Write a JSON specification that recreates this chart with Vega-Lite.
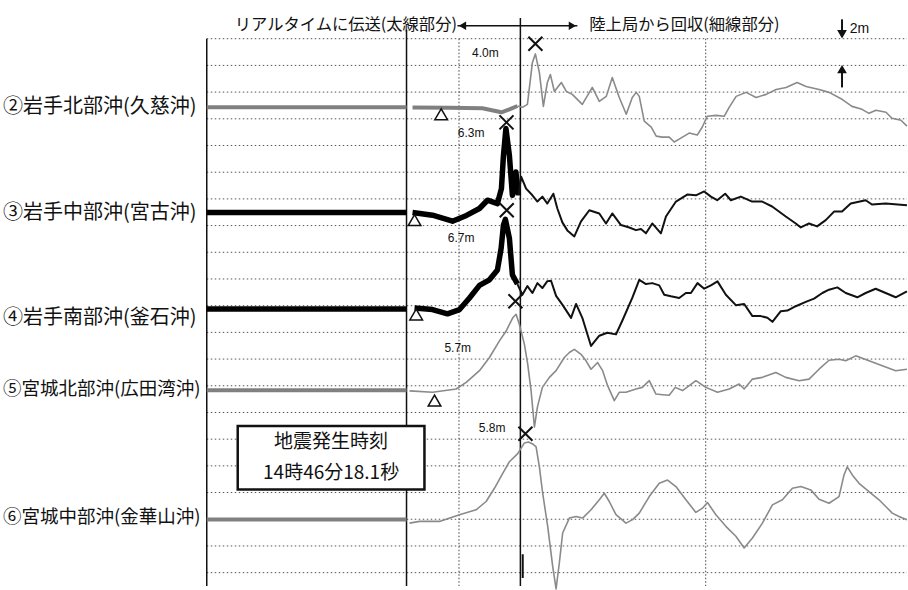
{
  "$schema": "https://vega.github.io/schema/vega-lite/v6.json",
  "width": 908,
  "height": 590,
  "autosize": {"type": "fit", "contains": "padding"},
  "padding": 0,
  "background": "white",
  "config": {"view": {"stroke": null}, "text": {"font": "Noto Sans CJK JP", "color": "#111"}},
  "datasets": {
    "hgrid": [
      {"h":0,"t0":-1.34,"t1":168.95},{"h":2,"t0":-1.34,"t1":168.95},{"h":4,"t0":-1.34,"t1":168.95},{"h":6,"t0":-1.34,"t1":168.95},{"h":8,"t0":-1.34,"t1":168.95},{"h":10,"t0":-1.34,"t1":168.95},{"h":12,"t0":-1.34,"t1":168.95},{"h":14,"t0":-1.34,"t1":168.95},{"h":16,"t0":-1.34,"t1":168.95},{"h":18,"t0":-1.34,"t1":168.95},{"h":20,"t0":-1.34,"t1":168.95},{"h":22,"t0":-1.34,"t1":168.95},{"h":24,"t0":-1.34,"t1":168.95},{"h":26,"t0":-1.34,"t1":168.95},{"h":28,"t0":-1.34,"t1":168.95},{"h":30,"t0":-1.34,"t1":168.95},{"h":32,"t0":-1.34,"t1":168.95},{"h":34,"t0":-1.34,"t1":168.95},{"h":36,"t0":-1.34,"t1":168.95},{"h":38,"t0":-1.34,"t1":168.95},{"h":40,"t0":-1.34,"t1":168.95}
    ],
    "vlines": [
      {"t": -1.34, "h": 40.0, "k": "solid"},
      {"t": 47.24, "h": 40.67, "k": "solid"},
      {"t": 74.93, "h": 41.56, "k": "solid"},
      {"t": 60, "h": 40.0, "k": "dot"},
      {"t": 120, "h": 40.0, "k": "dot"}
    ],
    "header": [
      {"t": 5.47, "h": 41.04, "text": "リアルタイムに伝送(太線部分)"},
      {"t": 91.7, "h": 41.04, "text": "陸上局から回収(細線部分)"}
    ],
    "arrowShaft": [{"t0": 59.63, "t1": 88.78, "h": 40.97}],
    "arrowHeads": [
      {"t": 60.85, "h": 40.97, "dir": "triangle-left"},
      {"t": 87.57, "h": 40.97, "dir": "triangle-right"}
    ],
    "scaleBar": [
      {"t": 153.15, "h0": 41.45, "h1": 40.6},
      {"t": 153.15, "h0": 36.35, "h1": 37.5}
    ],
    "scaleHeads": [
      {"t": 153.15, "h": 40.33, "dir": "triangle-down"},
      {"t": 153.15, "h": 37.72, "dir": "triangle-up"}
    ],
    "scaleText": [{"t": 155.0, "h": 40.74, "text": "2m"}],
    "tick": [{"t": 75.5, "h0": 1.38, "h1": -0.4}],
    "box": [{"t0": 6.19, "t1": 51.6, "h0": 10.98, "h1": 6.22}],
    "boxText": [
      {"t": 28.9, "h": 9.79, "text": "地震発生時刻"},
      {"t": 28.9, "h": 7.48, "text": "14時46分18.1秒"}
    ],
    "marks": [
      {"st": 2, "m": "arr", "t": 55.67, "w": -0.52},
      {"st": 2, "m": "peak", "t": 78.58, "w": 4.76},
      {"st": 2, "m": "lab", "t": 66.43, "w": 4.07, "text": "4.0m"},
      {"st": 2, "m": "name", "t": -50.89, "w": 0, "text": "②岩手北部沖(久慈沖)"},
      {"st": 3, "m": "arr", "t": 49.19, "w": -0.57},
      {"st": 3, "m": "peak", "t": 71.55, "w": 6.75},
      {"st": 3, "m": "lab", "t": 62.96, "w": 5.95, "text": "6.3m"},
      {"st": 3, "m": "name", "t": -50.89, "w": -0.07, "text": "③岩手中部沖(宮古沖)"},
      {"st": 4, "m": "arr", "t": 49.59, "w": -0.42},
      {"st": 4, "m": "peak", "t": 71.61, "w": 7.39},
      {"st": 4, "m": "lab", "t": 60.53, "w": 5.28, "text": "6.7m"},
      {"st": 4, "m": "name", "t": -50.89, "w": -0.67, "text": "④岩手南部沖(釜石沖)"},
      {"st": 5, "m": "arr", "t": 54.05, "w": -0.77},
      {"st": 5, "m": "peak", "t": 73.72, "w": 6.67},
      {"st": 5, "m": "lab", "t": 59.7, "w": 3.2, "text": "5.7m"},
      {"st": 5, "m": "name", "t": -50.89, "w": 0.07, "text": "⑤宮城北部沖(広田湾沖)"},
      {"st": 6, "m": "peak", "t": 76.15, "w": 6.42},
      {"st": 6, "m": "lab", "t": 68.06, "w": 6.87, "text": "5.8m"},
      {"st": 6, "m": "name", "t": -50.89, "w": 0.15, "text": "⑥宮城中部沖(金華山沖)"}
    ],
    "wave": [
      {"st":2,"seg":"2a","k":"thick","t":-1.34,"w":0},{"st":2,"seg":"2a","k":"thick","t":47.25,"w":0},
      {"st":2,"seg":"2b","k":"thick","t":48.7,"w":-0.02},{"st":2,"seg":"2b","k":"thick","t":57.69,"w":-0.04},{"st":2,"seg":"2b","k":"thick","t":65.7,"w":-0.07},{"st":2,"seg":"2b","k":"thick","t":70.32,"w":-0.37},{"st":2,"seg":"2b","k":"thick","t":72.26,"w":-0.15},{"st":2,"seg":"2b","k":"thick","t":74.21,"w":0.1},
      {"st":2,"seg":"2c","k":"thin","t":74.21,"w":0.1},{"st":2,"seg":"2c","k":"thin","t":75.42,"w":0},{"st":2,"seg":"2c","k":"thin","t":76.64,"w":0.22},{"st":2,"seg":"2c","k":"thin","t":77.85,"w":3.35},{"st":2,"seg":"2c","k":"thin","t":78.58,"w":4.0},{"st":2,"seg":"2c","k":"thin","t":79.55,"w":2.6},{"st":2,"seg":"2c","k":"thin","t":80.52,"w":0.07},{"st":2,"seg":"2c","k":"thin","t":81.49,"w":1.86},{"st":2,"seg":"2c","k":"thin","t":82.22,"w":2.46},{"st":2,"seg":"2c","k":"thin","t":83.19,"w":1.19},{"st":2,"seg":"2c","k":"thin","t":84.89,"w":1.86},{"st":2,"seg":"2c","k":"thin","t":86.11,"w":1.19},{"st":2,"seg":"2c","k":"thin","t":87.56,"w":0.97},{"st":2,"seg":"2c","k":"thin","t":89.99,"w":0.22},{"st":2,"seg":"2c","k":"thin","t":92.42,"w":1.49},{"st":2,"seg":"2c","k":"thin","t":94.12,"w":0.45},{"st":2,"seg":"2c","k":"thin","t":95.82,"w":0.82},{"st":2,"seg":"2c","k":"thin","t":97.28,"w":2.23},{"st":2,"seg":"2c","k":"thin","t":98.98,"w":0.74},{"st":2,"seg":"2c","k":"thin","t":100.68,"w":-0.52},{"st":2,"seg":"2c","k":"thin","t":102.14,"w":0.74},{"st":2,"seg":"2c","k":"thin","t":103.11,"w":1.12},{"st":2,"seg":"2c","k":"thin","t":103.84,"w":0.82},{"st":2,"seg":"2c","k":"thin","t":105.05,"w":-1.04},{"st":2,"seg":"2c","k":"thin","t":106.75,"w":-1.49},{"st":2,"seg":"2c","k":"thin","t":107.97,"w":-2.16},{"st":2,"seg":"2c","k":"thin","t":109.42,"w":-2.23},{"st":2,"seg":"2c","k":"thin","t":111.12,"w":-2.23},{"st":2,"seg":"2c","k":"thin","t":112.34,"w":-2.6},{"st":2,"seg":"2c","k":"thin","t":113.55,"w":-2.38},{"st":2,"seg":"2c","k":"thin","t":115.98,"w":-1.93},{"st":2,"seg":"2c","k":"thin","t":117.93,"w":-2.08},{"st":2,"seg":"2c","k":"thin","t":119.14,"w":-1.49},{"st":2,"seg":"2c","k":"thin","t":120.36,"w":-0.67},{"st":2,"seg":"2c","k":"thin","t":122.54,"w":-0.6},{"st":2,"seg":"2c","k":"thin","t":124.49,"w":-0.67},{"st":2,"seg":"2c","k":"thin","t":125.7,"w":0},{"st":2,"seg":"2c","k":"thin","t":127.4,"w":0.82},{"st":2,"seg":"2c","k":"thin","t":129.83,"w":1.12},{"st":2,"seg":"2c","k":"thin","t":132.26,"w":0.74},{"st":2,"seg":"2c","k":"thin","t":134.69,"w":0.97},{"st":2,"seg":"2c","k":"thin","t":137.12,"w":1.34},{"st":2,"seg":"2c","k":"thin","t":139.55,"w":1.49},{"st":2,"seg":"2c","k":"thin","t":142.22,"w":1.86},{"st":2,"seg":"2c","k":"thin","t":144.41,"w":1.56},{"st":2,"seg":"2c","k":"thin","t":147.57,"w":1.34},{"st":2,"seg":"2c","k":"thin","t":150.0,"w":1.12},{"st":2,"seg":"2c","k":"thin","t":153.15,"w":0.6},{"st":2,"seg":"2c","k":"thin","t":155.58,"w":0.07},{"st":2,"seg":"2c","k":"thin","t":158.01,"w":-0.15},{"st":2,"seg":"2c","k":"thin","t":159.71,"w":-0.45},{"st":2,"seg":"2c","k":"thin","t":161.41,"w":-0.22},{"st":2,"seg":"2c","k":"thin","t":163.84,"w":-0.37},{"st":2,"seg":"2c","k":"thin","t":165.3,"w":-0.82},{"st":2,"seg":"2c","k":"thin","t":167.48,"w":-0.97},{"st":2,"seg":"2c","k":"thin","t":168.94,"w":-1.41},

      {"st":3,"seg":"3a","k":"thick","t":-1.34,"w":0},{"st":3,"seg":"3a","k":"thick","t":47.25,"w":0},
      {"st":3,"seg":"3b","k":"thick","t":48.7,"w":0},{"st":3,"seg":"3b","k":"thick","t":53.56,"w":-0.2},{"st":3,"seg":"3b","k":"thick","t":58.42,"w":-0.65},{"st":3,"seg":"3b","k":"thick","t":61.82,"w":-0.22},{"st":3,"seg":"3b","k":"thick","t":64.98,"w":0.3},{"st":3,"seg":"3b","k":"thick","t":66.92,"w":0.92},{"st":3,"seg":"3b","k":"thick","t":69.35,"w":0.67},{"st":3,"seg":"3b","k":"thick","t":70.32,"w":1.79},{"st":3,"seg":"3b","k":"thick","t":70.81,"w":4.26},{"st":3,"seg":"3b","k":"thick","t":71.41,"w":6.3},{"st":3,"seg":"3b","k":"thick","t":72.26,"w":4.26},{"st":3,"seg":"3b","k":"thick","t":72.99,"w":1.29},{"st":3,"seg":"3b","k":"thick","t":73.84,"w":3.03},{"st":3,"seg":"3b","k":"thick","t":74.45,"w":1.29},
      {"st":3,"seg":"3c","k":"thin","t":74.45,"w":1.29},{"st":3,"seg":"3c","k":"thin","t":75.11,"w":2.68},{"st":3,"seg":"3c","k":"thin","t":76.32,"w":1.79},{"st":3,"seg":"3c","k":"thin","t":77.85,"w":1.29},{"st":3,"seg":"3c","k":"thin","t":79.07,"w":0.82},{"st":3,"seg":"3c","k":"thin","t":80.28,"w":1.19},{"st":3,"seg":"3c","k":"thin","t":81.49,"w":0.67},{"st":3,"seg":"3c","k":"thin","t":82.95,"w":1.41},{"st":3,"seg":"3c","k":"thin","t":83.92,"w":0.3},{"st":3,"seg":"3c","k":"thin","t":85.14,"w":-0.74},{"st":3,"seg":"3c","k":"thin","t":86.35,"w":-1.34},{"st":3,"seg":"3c","k":"thin","t":88.05,"w":-1.79},{"st":3,"seg":"3c","k":"thin","t":89.68,"w":-0.67},{"st":3,"seg":"3c","k":"thin","t":91.7,"w":0.17},{"st":3,"seg":"3c","k":"thin","t":94.12,"w":-0.07},{"st":3,"seg":"3c","k":"thin","t":95.75,"w":-0.82},{"st":3,"seg":"3c","k":"thin","t":97.28,"w":-0.07},{"st":3,"seg":"3c","k":"thin","t":99.39,"w":-0.94},{"st":3,"seg":"3c","k":"thin","t":101.41,"w":-1.12},{"st":3,"seg":"3c","k":"thin","t":103.04,"w":-1.32},{"st":3,"seg":"3c","k":"thin","t":104.25,"w":-1.24},{"st":3,"seg":"3c","k":"thin","t":105.47,"w":-1.56},{"st":3,"seg":"3c","k":"thin","t":107.0,"w":-0.82},{"st":3,"seg":"3c","k":"thin","t":109.11,"w":-1.56},{"st":3,"seg":"3c","k":"thin","t":110.33,"w":-0.3},{"st":3,"seg":"3c","k":"thin","t":112.76,"w":0.82},{"st":3,"seg":"3c","k":"thin","t":115.5,"w":1.34},{"st":3,"seg":"3c","k":"thin","t":117.61,"w":1.29},{"st":3,"seg":"3c","k":"thin","t":119.63,"w":1.58},{"st":3,"seg":"3c","k":"thin","t":121.26,"w":1.19},{"st":3,"seg":"3c","k":"thin","t":122.79,"w":0.92},{"st":3,"seg":"3c","k":"thin","t":124.73,"w":1.41},{"st":3,"seg":"3c","k":"thin","t":126.11,"w":0.92},{"st":3,"seg":"3c","k":"thin","t":128.54,"w":1.19},{"st":3,"seg":"3c","k":"thin","t":131.29,"w":0.82},{"st":3,"seg":"3c","k":"thin","t":133.72,"w":0.82},{"st":3,"seg":"3c","k":"thin","t":136.15,"w":0.45},{"st":3,"seg":"3c","k":"thin","t":139.47,"w":-0.3},{"st":3,"seg":"3c","k":"thin","t":141.9,"w":-0.82},{"st":3,"seg":"3c","k":"thin","t":143.12,"w":-1.12},{"st":3,"seg":"3c","k":"thin","t":145.13,"w":-0.82},{"st":3,"seg":"3c","k":"thin","t":147.08,"w":-1.04},{"st":3,"seg":"3c","k":"thin","t":149.19,"w":-0.57},{"st":3,"seg":"3c","k":"thin","t":151.21,"w":0.07},{"st":3,"seg":"3c","k":"thin","t":153.15,"w":0.07},{"st":3,"seg":"3c","k":"thin","t":155.26,"w":0.67},{"st":3,"seg":"3c","k":"thin","t":158.9,"w":0.92},{"st":3,"seg":"3c","k":"thin","t":160.43,"w":0.6},{"st":3,"seg":"3c","k":"thin","t":163.76,"w":0.67},{"st":3,"seg":"3c","k":"thin","t":168.94,"w":0.54},

      {"st":4,"seg":"4a","k":"thick","t":-1.34,"w":0},{"st":4,"seg":"4a","k":"thick","t":47.25,"w":0},
      {"st":4,"seg":"4b","k":"thick","t":49.19,"w":0.07},{"st":4,"seg":"4b","k":"thick","t":53.56,"w":-0.05},{"st":4,"seg":"4b","k":"thick","t":57.2,"w":-0.37},{"st":4,"seg":"4b","k":"thick","t":60.12,"w":-0.05},{"st":4,"seg":"4b","k":"thick","t":62.55,"w":0.82},{"st":4,"seg":"4b","k":"thick","t":64.98,"w":1.76},{"st":4,"seg":"4b","k":"thick","t":67.41,"w":2.18},{"st":4,"seg":"4b","k":"thick","t":69.35,"w":2.92},{"st":4,"seg":"4b","k":"thick","t":70.25,"w":4.54},{"st":4,"seg":"4b","k":"thick","t":70.81,"w":6.27},{"st":4,"seg":"4b","k":"thick","t":71.29,"w":6.7},{"st":4,"seg":"4b","k":"thick","t":72.26,"w":5.28},{"st":4,"seg":"4b","k":"thick","t":72.99,"w":2.55},{"st":4,"seg":"4b","k":"thick","t":74.21,"w":1.86},
      {"st":4,"seg":"4c","k":"thin","t":74.21,"w":1.86},{"st":4,"seg":"4c","k":"thin","t":75.42,"w":1.06},{"st":4,"seg":"4c","k":"thin","t":76.64,"w":1.71},{"st":4,"seg":"4c","k":"thin","t":77.85,"w":1.19},{"st":4,"seg":"4c","k":"thin","t":79.07,"w":1.93},{"st":4,"seg":"4c","k":"thin","t":80.28,"w":1.56},{"st":4,"seg":"4c","k":"thin","t":81.49,"w":2.08},{"st":4,"seg":"4c","k":"thin","t":82.39,"w":2.11},{"st":4,"seg":"4c","k":"thin","t":83.61,"w":0.97},{"st":4,"seg":"4c","k":"thin","t":85.14,"w":0.32},{"st":4,"seg":"4c","k":"thin","t":87.25,"w":-0.67},{"st":4,"seg":"4c","k":"thin","t":88.47,"w":0.37},{"st":4,"seg":"4c","k":"thin","t":89.99,"w":-0.67},{"st":4,"seg":"4c","k":"thin","t":92.11,"w":-2.78},{"st":4,"seg":"4c","k":"thin","t":94.12,"w":-2.01},{"st":4,"seg":"4c","k":"thin","t":96.07,"w":-1.79},{"st":4,"seg":"4c","k":"thin","t":98.18,"w":-1.91},{"st":4,"seg":"4c","k":"thin","t":99.71,"w":-0.89},{"st":4,"seg":"4c","k":"thin","t":102.14,"w":0.82},{"st":4,"seg":"4c","k":"thin","t":103.84,"w":2.18},{"st":4,"seg":"4c","k":"thin","t":105.47,"w":1.86},{"st":4,"seg":"4c","k":"thin","t":107.0,"w":1.93},{"st":4,"seg":"4c","k":"thin","t":108.7,"w":1.76},{"st":4,"seg":"4c","k":"thin","t":109.91,"w":1.06},{"st":4,"seg":"4c","k":"thin","t":111.54,"w":0.94},{"st":4,"seg":"4c","k":"thin","t":113.55,"w":0.82},{"st":4,"seg":"4c","k":"thin","t":115.18,"w":1.19},{"st":4,"seg":"4c","k":"thin","t":116.4,"w":1.19},{"st":4,"seg":"4c","k":"thin","t":118.0,"w":1.93},{"st":4,"seg":"4c","k":"thin","t":119.63,"w":1.51},{"st":4,"seg":"4c","k":"thin","t":121.26,"w":1.76},{"st":4,"seg":"4c","k":"thin","t":122.86,"w":2.06},{"st":4,"seg":"4c","k":"thin","t":124.9,"w":1.06},{"st":4,"seg":"4c","k":"thin","t":127.33,"w":0.28},{"st":4,"seg":"4c","k":"thin","t":129.35,"w":0.37},{"st":4,"seg":"4c","k":"thin","t":131.36,"w":-0.54},{"st":4,"seg":"4c","k":"thin","t":133.4,"w":-0.54},{"st":4,"seg":"4c","k":"thin","t":135.0,"w":-0.67},{"st":4,"seg":"4c","k":"thin","t":136.22,"w":-0.97},{"st":4,"seg":"4c","k":"thin","t":138.26,"w":-0.17},{"st":4,"seg":"4c","k":"thin","t":139.86,"w":-0.13},{"st":4,"seg":"4c","k":"thin","t":141.9,"w":0.2},{"st":4,"seg":"4c","k":"thin","t":144.33,"w":0.52},{"st":4,"seg":"4c","k":"thin","t":146.35,"w":0.77},{"st":4,"seg":"4c","k":"thin","t":148.36,"w":1.19},{"st":4,"seg":"4c","k":"thin","t":149.99,"w":1.44},{"st":4,"seg":"4c","k":"thin","t":152.01,"w":1.61},{"st":4,"seg":"4c","k":"thin","t":154.05,"w":1.19},{"st":4,"seg":"4c","k":"thin","t":156.87,"w":0.87},{"st":4,"seg":"4c","k":"thin","t":158.9,"w":1.19},{"st":4,"seg":"4c","k":"thin","t":161.33,"w":1.51},{"st":4,"seg":"4c","k":"thin","t":163.76,"w":1.19},{"st":4,"seg":"4c","k":"thin","t":166.19,"w":0.87},{"st":4,"seg":"4c","k":"thin","t":168.94,"w":1.32},

      {"st":5,"seg":"5a","k":"thick","t":-1.34,"w":0},{"st":5,"seg":"5a","k":"thick","t":47.25,"w":0},
      {"st":5,"seg":"5b","k":"thin","t":47.97,"w":-0.04},{"st":5,"seg":"5b","k":"thin","t":53.56,"w":-0.15},{"st":5,"seg":"5b","k":"thin","t":59.32,"w":0.1},{"st":5,"seg":"5b","k":"thin","t":61.75,"w":0.6},{"st":5,"seg":"5b","k":"thin","t":64.98,"w":1.47},{"st":5,"seg":"5b","k":"thin","t":67.41,"w":2.46},{"st":5,"seg":"5b","k":"thin","t":69.84,"w":3.7},{"st":5,"seg":"5b","k":"thin","t":71.46,"w":4.44},{"st":5,"seg":"5b","k":"thin","t":73.07,"w":5.43},{"st":5,"seg":"5b","k":"thin","t":73.89,"w":5.7},{"st":5,"seg":"5b","k":"thin","t":74.69,"w":4.93},{"st":5,"seg":"5b","k":"thin","t":75.91,"w":3.44},{"st":5,"seg":"5b","k":"thin","t":76.71,"w":1.96},{"st":5,"seg":"5b","k":"thin","t":77.53,"w":-0.02},{"st":5,"seg":"5b","k":"thin","t":78.34,"w":-2.75},{"st":5,"seg":"5b","k":"thin","t":79.07,"w":-1.26},{"st":5,"seg":"5b","k":"thin","t":80.28,"w":0.22},{"st":5,"seg":"5b","k":"thin","t":81.98,"w":0.97},{"st":5,"seg":"5b","k":"thin","t":83.61,"w":1.47},{"st":5,"seg":"5b","k":"thin","t":85.62,"w":2.46},{"st":5,"seg":"5b","k":"thin","t":86.84,"w":2.83},{"st":5,"seg":"5b","k":"thin","t":88.05,"w":3.07},{"st":5,"seg":"5b","k":"thin","t":89.68,"w":2.7},{"st":5,"seg":"5b","k":"thin","t":90.89,"w":2.21},{"st":5,"seg":"5b","k":"thin","t":92.11,"w":1.58},{"st":5,"seg":"5b","k":"thin","t":93.71,"w":2.08},{"st":5,"seg":"5b","k":"thin","t":94.93,"w":1.47},{"st":5,"seg":"5b","k":"thin","t":96.14,"w":0.35},{"st":5,"seg":"5b","k":"thin","t":97.77,"w":-0.77},{"st":5,"seg":"5b","k":"thin","t":98.98,"w":-0.15},{"st":5,"seg":"5b","k":"thin","t":100.61,"w":-0.15},{"st":5,"seg":"5b","k":"thin","t":103.04,"w":0.1},{"st":5,"seg":"5b","k":"thin","t":104.57,"w":0.22},{"st":5,"seg":"5b","k":"thin","t":106.28,"w":0.72},{"st":5,"seg":"5b","k":"thin","t":107.9,"w":-0.28},{"st":5,"seg":"5b","k":"thin","t":109.5,"w":-0.33},{"st":5,"seg":"5b","k":"thin","t":111.13,"w":-0.37},{"st":5,"seg":"5b","k":"thin","t":112.59,"w":0.22},{"st":5,"seg":"5b","k":"thin","t":114.36,"w":-0.02},{"st":5,"seg":"5b","k":"thin","t":117.61,"w":0.72},{"st":5,"seg":"5b","k":"thin","t":120.04,"w":0.22},{"st":5,"seg":"5b","k":"thin","t":122.86,"w":-0.15},{"st":5,"seg":"5b","k":"thin","t":125.7,"w":0.1},{"st":5,"seg":"5b","k":"thin","t":128.13,"w":0.47},{"st":5,"seg":"5b","k":"thin","t":129.35,"w":0.1},{"st":5,"seg":"5b","k":"thin","t":131.36,"w":0.84},{"st":5,"seg":"5b","k":"thin","t":133.79,"w":0.97},{"st":5,"seg":"5b","k":"thin","t":137.05,"w":1.34},{"st":5,"seg":"5b","k":"thin","t":139.47,"w":0.97},{"st":5,"seg":"5b","k":"thin","t":142.7,"w":0.72},{"st":5,"seg":"5b","k":"thin","t":145.13,"w":0.84},{"st":5,"seg":"5b","k":"thin","t":147.56,"w":1.58},{"st":5,"seg":"5b","k":"thin","t":149.99,"w":2.25},{"st":5,"seg":"5b","k":"thin","t":152.42,"w":2.33},{"st":5,"seg":"5b","k":"thin","t":154.05,"w":2.21},{"st":5,"seg":"5b","k":"thin","t":156.48,"w":2.58},{"st":5,"seg":"5b","k":"thin","t":159.71,"w":2.21},{"st":5,"seg":"5b","k":"thin","t":162.94,"w":1.84},{"st":5,"seg":"5b","k":"thin","t":166.19,"w":1.47},{"st":5,"seg":"5b","k":"thin","t":168.94,"w":1.58},

      {"st":6,"seg":"6a","k":"thick","t":-1.34,"w":0},{"st":6,"seg":"6a","k":"thick","t":47.25,"w":0},
      {"st":6,"seg":"6b","k":"thin","t":47.97,"w":-0.28},{"st":6,"seg":"6b","k":"thin","t":50.4,"w":-0.15},{"st":6,"seg":"6b","k":"thin","t":55.26,"w":-0.15},{"st":6,"seg":"6b","k":"thin","t":60.12,"w":0.35},{"st":6,"seg":"6b","k":"thin","t":64.17,"w":0.72},{"st":6,"seg":"6b","k":"thin","t":66.6,"w":1.34},{"st":6,"seg":"6b","k":"thin","t":68.62,"w":2.33},{"st":6,"seg":"6b","k":"thin","t":70.64,"w":3.44},{"st":6,"seg":"6b","k":"thin","t":72.26,"w":4.32},{"st":6,"seg":"6b","k":"thin","t":74.28,"w":4.93},{"st":6,"seg":"6b","k":"thin","t":75.91,"w":5.73},{"st":6,"seg":"6b","k":"thin","t":76.88,"w":5.8},{"st":6,"seg":"6b","k":"thin","t":77.92,"w":5.65},{"st":6,"seg":"6b","k":"thin","t":78.75,"w":5.43},{"st":6,"seg":"6b","k":"thin","t":79.55,"w":3.94},{"st":6,"seg":"6b","k":"thin","t":80.35,"w":1.96},{"st":6,"seg":"6b","k":"thin","t":81.57,"w":-0.52},{"st":6,"seg":"6b","k":"thin","t":82.78,"w":-3.5},{"st":6,"seg":"6b","k":"thin","t":83.61,"w":-5.21},{"st":6,"seg":"6b","k":"thin","t":84.41,"w":-3.25},{"st":6,"seg":"6b","k":"thin","t":85.21,"w":-1.02},{"st":6,"seg":"6b","k":"thin","t":86.84,"w":0.1},{"st":6,"seg":"6b","k":"thin","t":88.47,"w":0.22},{"st":6,"seg":"6b","k":"thin","t":90.07,"w":0.1},{"st":6,"seg":"6b","k":"thin","t":92.11,"w":0.72},{"st":6,"seg":"6b","k":"thin","t":94.12,"w":1.47},{"st":6,"seg":"6b","k":"thin","t":95.34,"w":1.96},{"st":6,"seg":"6b","k":"thin","t":96.55,"w":1.34},{"st":6,"seg":"6b","k":"thin","t":98.18,"w":0.35},{"st":6,"seg":"6b","k":"thin","t":100.61,"w":-0.28},{"st":6,"seg":"6b","k":"thin","t":102.21,"w":-0.02},{"st":6,"seg":"6b","k":"thin","t":103.84,"w":0.47},{"st":6,"seg":"6b","k":"thin","t":106.27,"w":1.71},{"st":6,"seg":"6b","k":"thin","t":108.7,"w":2.7},{"st":6,"seg":"6b","k":"thin","t":110.71,"w":2.95},{"st":6,"seg":"6b","k":"thin","t":112.75,"w":2.46},{"st":6,"seg":"6b","k":"thin","t":115.18,"w":1.47},{"st":6,"seg":"6b","k":"thin","t":117.61,"w":0.52},{"st":6,"seg":"6b","k":"thin","t":119.21,"w":0.84},{"st":6,"seg":"6b","k":"thin","t":120.43,"w":1.26},{"st":6,"seg":"6b","k":"thin","t":122.47,"w":0.35},{"st":6,"seg":"6b","k":"thin","t":124.9,"w":-0.52},{"st":6,"seg":"6b","k":"thin","t":127.33,"w":-1.26},{"st":6,"seg":"6b","k":"thin","t":129.35,"w":-2.14},{"st":6,"seg":"6b","k":"thin","t":131.36,"w":-1.39},{"st":6,"seg":"6b","k":"thin","t":133.79,"w":-0.28},{"st":6,"seg":"6b","k":"thin","t":136.22,"w":1.09},{"st":6,"seg":"6b","k":"thin","t":138.65,"w":1.47},{"st":6,"seg":"6b","k":"thin","t":141.08,"w":2.33},{"st":6,"seg":"6b","k":"thin","t":143.12,"w":2.46},{"st":6,"seg":"6b","k":"thin","t":145.55,"w":2.21},{"st":6,"seg":"6b","k":"thin","t":147.56,"w":1.51},{"st":6,"seg":"6b","k":"thin","t":149.99,"w":1.21},{"st":6,"seg":"6b","k":"thin","t":152.42,"w":1.71},{"st":6,"seg":"6b","k":"thin","t":153.63,"w":3.33},{"st":6,"seg":"6b","k":"thin","t":154.43,"w":3.94},{"st":6,"seg":"6b","k":"thin","t":155.65,"w":3.33},{"st":6,"seg":"6b","k":"thin","t":157.28,"w":2.7},{"st":6,"seg":"6b","k":"thin","t":159.71,"w":2.08},{"st":6,"seg":"6b","k":"thin","t":162.14,"w":1.47},{"st":6,"seg":"6b","k":"thin","t":163.77,"w":0.97},{"st":6,"seg":"6b","k":"thin","t":165.37,"w":0.47},{"st":6,"seg":"6b","k":"thin","t":167.0,"w":0.22},{"st":6,"seg":"6b","k":"thin","t":168.94,"w":-0.02}
    ]
  },
  "encoding": {
    "x": {"field": "t", "type": "quantitative", "scale": {"domain": [-51.62, 168.95], "nice": false, "zero": false}, "axis": null}
  },
  "resolve": {"scale": {"y": "independent"}},
  "layer": [
    {
      "encoding": {"y": {"field": "h", "type": "quantitative", "scale": {"domain": [-1, 42.9], "nice": false, "zero": false}, "axis": null}},
      "layer": [
        {"data": {"name": "hgrid"}, "mark": {"type": "rule", "stroke": "#555", "strokeWidth": 1, "strokeDash": [1.5, 2.5]}, "encoding": {"x": {"field": "t0", "type": "quantitative", "scale": {"domain": [-51.62, 168.95], "nice": false, "zero": false}, "axis": null}, "x2": {"field": "t1"}}},
        {"data": {"name": "vlines"}, "transform": [{"filter": "datum.k == 'dot'"}], "mark": {"type": "rule", "stroke": "#444", "strokeWidth": 1, "strokeDash": [1.5, 2]}, "encoding": {"y2": {"datum": -1}}},
        {"data": {"name": "vlines"}, "transform": [{"filter": "datum.k == 'solid'"}], "mark": {"type": "rule", "stroke": "#111", "strokeWidth": 1.5}, "encoding": {"y2": {"datum": -1}}},
        {"data": {"name": "tick"}, "mark": {"type": "rule", "stroke": "#111", "strokeWidth": 2}, "encoding": {"y": {"field": "h0", "type": "quantitative", "scale": {"domain": [-1, 42.9], "nice": false, "zero": false}, "axis": null}, "y2": {"field": "h1"}}},
        {"data": {"name": "header"}, "mark": {"type": "text", "align": "left", "baseline": "middle", "fontSize": 16.3}, "encoding": {"text": {"field": "text"}}},
        {"data": {"name": "arrowShaft"}, "mark": {"type": "rule", "stroke": "#111", "strokeWidth": 1.5}, "encoding": {"x": {"field": "t0", "type": "quantitative", "scale": {"domain": [-51.62, 168.95], "nice": false, "zero": false}, "axis": null}, "x2": {"field": "t1"}}},
        {"data": {"name": "arrowHeads"}, "mark": {"type": "point", "filled": true, "color": "#111", "size": 70, "opacity": 1}, "encoding": {"shape": {"field": "dir", "type": "nominal", "scale": null}}},
        {"data": {"name": "scaleBar"}, "mark": {"type": "rule", "stroke": "#111", "strokeWidth": 2}, "encoding": {"y": {"field": "h0", "type": "quantitative", "scale": {"domain": [-1, 42.9], "nice": false, "zero": false}, "axis": null}, "y2": {"field": "h1"}}},
        {"data": {"name": "scaleHeads"}, "mark": {"type": "point", "filled": true, "color": "#111", "size": 95, "opacity": 1}, "encoding": {"shape": {"field": "dir", "type": "nominal", "scale": null}}},
        {"data": {"name": "scaleText"}, "mark": {"type": "text", "align": "left", "baseline": "middle", "fontSize": 14, "font": "Liberation Sans"}, "encoding": {"text": {"field": "text"}}},
        {"data": {"name": "box"}, "mark": {"type": "rect", "fill": "white", "stroke": "#111", "strokeWidth": 2.5}, "encoding": {"x": {"field": "t0", "type": "quantitative", "scale": {"domain": [-51.62, 168.95], "nice": false, "zero": false}, "axis": null}, "x2": {"field": "t1"}, "y": {"field": "h0", "type": "quantitative", "scale": {"domain": [-1, 42.9], "nice": false, "zero": false}, "axis": null}, "y2": {"field": "h1"}}},
        {"data": {"name": "boxText"}, "mark": {"type": "text", "align": "center", "baseline": "middle", "fontSize": 19}, "encoding": {"text": {"field": "text"}}}
      ]
    },
    {
      "encoding": {"y": {"field": "w", "type": "quantitative", "scale": {"domain": [-35.86, 8.04], "nice": false, "zero": false}, "axis": null}},
      "layer": [
        {"data": {"name": "wave"}, "transform": [{"filter": "datum.st == 2 && datum.k == 'thick'"}], "mark": {"type": "line", "stroke": "#808080", "strokeWidth": 4, "strokeCap": "butt", "strokeJoin": "round"}, "encoding": {"detail": {"field": "seg"}}},
        {"data": {"name": "wave"}, "transform": [{"filter": "datum.st == 2 && datum.k == 'thin'"}], "mark": {"type": "line", "stroke": "#8a8a8a", "strokeWidth": 1.6, "strokeJoin": "round"}, "encoding": {"detail": {"field": "seg"}}},
        {"data": {"name": "marks"}, "transform": [{"filter": "datum.st == 2 && datum.m == 'arr'"}], "mark": {"type": "point", "shape": "triangle-up", "fill": "white", "stroke": "#111", "strokeWidth": 1.5, "size": 160, "opacity": 1}},
        {"data": {"name": "marks"}, "transform": [{"filter": "datum.st == 2 && datum.m == 'peak'"}], "mark": {"type": "point", "shape": "M-1,-1L1,1M1,-1L-1,1", "stroke": "#111", "strokeWidth": 2, "size": 196, "opacity": 1}},
        {"data": {"name": "marks"}, "transform": [{"filter": "datum.st == 2 && datum.m == 'lab'"}], "mark": {"type": "text", "align": "center", "baseline": "middle", "fontSize": 12, "font": "Liberation Sans"}, "encoding": {"text": {"field": "text"}}},
        {"data": {"name": "marks"}, "transform": [{"filter": "datum.st == 2 && datum.m == 'name'"}], "mark": {"type": "text", "align": "left", "baseline": "middle", "fontSize": 20}, "encoding": {"text": {"field": "text"}}}
      ]
    },
    {
      "encoding": {"y": {"field": "w", "type": "quantitative", "scale": {"domain": [-27.98, 15.92], "nice": false, "zero": false}, "axis": null}},
      "layer": [
        {"data": {"name": "wave"}, "transform": [{"filter": "datum.st == 3 && datum.k == 'thick'"}], "mark": {"type": "line", "stroke": "#000", "strokeWidth": 5.5, "strokeCap": "butt", "strokeJoin": "round"}, "encoding": {"detail": {"field": "seg"}}},
        {"data": {"name": "wave"}, "transform": [{"filter": "datum.st == 3 && datum.k == 'thin'"}], "mark": {"type": "line", "stroke": "#111", "strokeWidth": 2, "strokeJoin": "round"}, "encoding": {"detail": {"field": "seg"}}},
        {"data": {"name": "marks"}, "transform": [{"filter": "datum.st == 3 && datum.m == 'arr'"}], "mark": {"type": "point", "shape": "triangle-up", "fill": "white", "stroke": "#111", "strokeWidth": 1.5, "size": 160, "opacity": 1}},
        {"data": {"name": "marks"}, "transform": [{"filter": "datum.st == 3 && datum.m == 'peak'"}], "mark": {"type": "point", "shape": "M-1,-1L1,1M1,-1L-1,1", "stroke": "#111", "strokeWidth": 2, "size": 196, "opacity": 1}},
        {"data": {"name": "marks"}, "transform": [{"filter": "datum.st == 3 && datum.m == 'lab'"}], "mark": {"type": "text", "align": "center", "baseline": "middle", "fontSize": 12, "font": "Liberation Sans"}, "encoding": {"text": {"field": "text"}}},
        {"data": {"name": "marks"}, "transform": [{"filter": "datum.st == 3 && datum.m == 'name'"}], "mark": {"type": "text", "align": "left", "baseline": "middle", "fontSize": 20}, "encoding": {"text": {"field": "text"}}}
      ]
    },
    {
      "encoding": {"y": {"field": "w", "type": "quantitative", "scale": {"domain": [-20.76, 23.14], "nice": false, "zero": false}, "axis": null}},
      "layer": [
        {"data": {"name": "wave"}, "transform": [{"filter": "datum.st == 4 && datum.k == 'thick'"}], "mark": {"type": "line", "stroke": "#000", "strokeWidth": 5.5, "strokeCap": "butt", "strokeJoin": "round"}, "encoding": {"detail": {"field": "seg"}}},
        {"data": {"name": "wave"}, "transform": [{"filter": "datum.st == 4 && datum.k == 'thin'"}], "mark": {"type": "line", "stroke": "#111", "strokeWidth": 2, "strokeJoin": "round"}, "encoding": {"detail": {"field": "seg"}}},
        {"data": {"name": "marks"}, "transform": [{"filter": "datum.st == 4 && datum.m == 'arr'"}], "mark": {"type": "point", "shape": "triangle-up", "fill": "white", "stroke": "#111", "strokeWidth": 1.5, "size": 160, "opacity": 1}},
        {"data": {"name": "marks"}, "transform": [{"filter": "datum.st == 4 && datum.m == 'peak'"}], "mark": {"type": "point", "shape": "M-1,-1L1,1M1,-1L-1,1", "stroke": "#111", "strokeWidth": 2, "size": 196, "opacity": 1}},
        {"data": {"name": "marks"}, "transform": [{"filter": "datum.st == 4 && datum.m == 'lab'"}], "mark": {"type": "text", "align": "center", "baseline": "middle", "fontSize": 12, "font": "Liberation Sans"}, "encoding": {"text": {"field": "text"}}},
        {"data": {"name": "marks"}, "transform": [{"filter": "datum.st == 4 && datum.m == 'name'"}], "mark": {"type": "text", "align": "left", "baseline": "middle", "fontSize": 20}, "encoding": {"text": {"field": "text"}}}
      ]
    },
    {
      "encoding": {"y": {"field": "w", "type": "quantitative", "scale": {"domain": [-14.66, 29.24], "nice": false, "zero": false}, "axis": null}},
      "layer": [
        {"data": {"name": "wave"}, "transform": [{"filter": "datum.st == 5 && datum.k == 'thick'"}], "mark": {"type": "line", "stroke": "#808080", "strokeWidth": 4, "strokeCap": "butt", "strokeJoin": "round"}, "encoding": {"detail": {"field": "seg"}}},
        {"data": {"name": "wave"}, "transform": [{"filter": "datum.st == 5 && datum.k == 'thin'"}], "mark": {"type": "line", "stroke": "#8a8a8a", "strokeWidth": 1.6, "strokeJoin": "round"}, "encoding": {"detail": {"field": "seg"}}},
        {"data": {"name": "marks"}, "transform": [{"filter": "datum.st == 5 && datum.m == 'arr'"}], "mark": {"type": "point", "shape": "triangle-up", "fill": "white", "stroke": "#111", "strokeWidth": 1.5, "size": 160, "opacity": 1}},
        {"data": {"name": "marks"}, "transform": [{"filter": "datum.st == 5 && datum.m == 'peak'"}], "mark": {"type": "point", "shape": "M-1,-1L1,1M1,-1L-1,1", "stroke": "#111", "strokeWidth": 2, "size": 196, "opacity": 1}},
        {"data": {"name": "marks"}, "transform": [{"filter": "datum.st == 5 && datum.m == 'lab'"}], "mark": {"type": "text", "align": "center", "baseline": "middle", "fontSize": 12, "font": "Liberation Sans"}, "encoding": {"text": {"field": "text"}}},
        {"data": {"name": "marks"}, "transform": [{"filter": "datum.st == 5 && datum.m == 'name'"}], "mark": {"type": "text", "align": "left", "baseline": "middle", "fontSize": 18.5}, "encoding": {"text": {"field": "text"}}}
      ]
    },
    {
      "encoding": {"y": {"field": "w", "type": "quantitative", "scale": {"domain": [-4.99, 38.91], "nice": false, "zero": false}, "axis": null}},
      "layer": [
        {"data": {"name": "wave"}, "transform": [{"filter": "datum.st == 6 && datum.k == 'thick'"}], "mark": {"type": "line", "stroke": "#808080", "strokeWidth": 4, "strokeCap": "butt", "strokeJoin": "round"}, "encoding": {"detail": {"field": "seg"}}},
        {"data": {"name": "wave"}, "transform": [{"filter": "datum.st == 6 && datum.k == 'thin'"}], "mark": {"type": "line", "stroke": "#8a8a8a", "strokeWidth": 1.6, "strokeJoin": "round"}, "encoding": {"detail": {"field": "seg"}}},
        {"data": {"name": "marks"}, "transform": [{"filter": "datum.st == 6 && datum.m == 'peak'"}], "mark": {"type": "point", "shape": "M-1,-1L1,1M1,-1L-1,1", "stroke": "#111", "strokeWidth": 2, "size": 196, "opacity": 1}},
        {"data": {"name": "marks"}, "transform": [{"filter": "datum.st == 6 && datum.m == 'lab'"}], "mark": {"type": "text", "align": "center", "baseline": "middle", "fontSize": 12, "font": "Liberation Sans"}, "encoding": {"text": {"field": "text"}}},
        {"data": {"name": "marks"}, "transform": [{"filter": "datum.st == 6 && datum.m == 'name'"}], "mark": {"type": "text", "align": "left", "baseline": "middle", "fontSize": 18.5}, "encoding": {"text": {"field": "text"}}}
      ]
    }
  ]
}
